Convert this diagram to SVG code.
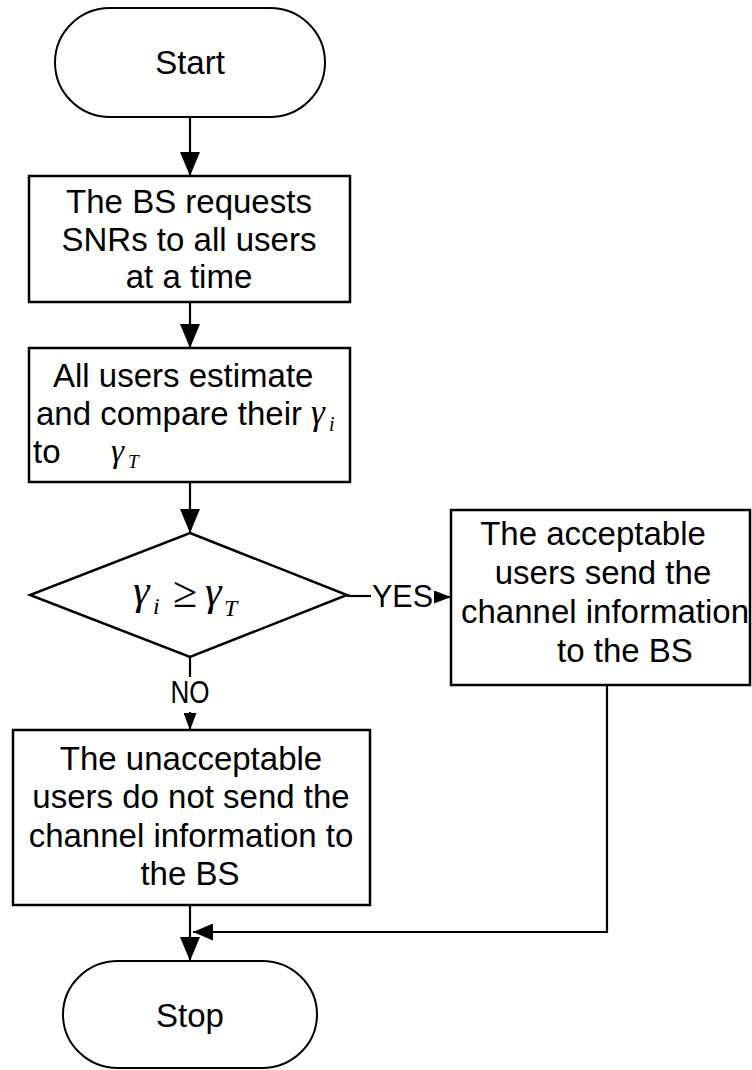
<svg xmlns="http://www.w3.org/2000/svg" width="752" height="1070" viewBox="0 0 752 1070">
  <defs>
    <marker id="arrowBig" markerUnits="userSpaceOnUse" markerWidth="24" markerHeight="20" refX="24" refY="10" orient="auto">
      <path d="M0,0 L24,10 L0,20 z" fill="#000"/>
    </marker>
    <marker id="arrowMid" markerUnits="userSpaceOnUse" markerWidth="20" markerHeight="17" refX="20" refY="8.5" orient="auto">
      <path d="M0,0 L20,8.5 L0,17 z" fill="#000"/>
    </marker>
    <marker id="arrowSmall" markerUnits="userSpaceOnUse" markerWidth="17" markerHeight="13" refX="17" refY="6.5" orient="auto">
      <path d="M0,0 L17,6.5 L0,13 z" fill="#000"/>
    </marker>
  </defs>
  <style>
    .term { fill: #fff; stroke: #000; stroke-width: 2; }
    .box { fill: #fff; stroke: #000; stroke-width: 2.5; }
    .dec { fill: #fff; stroke: #000; stroke-width: 2.5; }
    .lbl { font-family: "Liberation Sans", Arial, sans-serif; font-size: 33px; fill: #000; }
    .mid { text-anchor: middle; }
    .tag { font-family: "Liberation Sans", Arial, sans-serif; font-size: 31px; fill: #000; }
    .math { font-family: "Liberation Serif", "Times New Roman", serif; font-style: italic; fill: #000; }
    .conn { fill: none; stroke: #000; stroke-width: 2.2; }
  </style>
  <rect width="752" height="1070" fill="#fff"/>

  <!-- connectors -->
  <g id="connectors">
    <path class="conn" d="M190,117 V176" marker-end="url(#arrowBig)"/>
    <path class="conn" d="M190,302 V348" marker-end="url(#arrowBig)"/>
    <path class="conn" d="M190,482 V533" marker-end="url(#arrowBig)"/>
    <path class="conn" d="M190,657 V677"/>
    <text class="tag mid" x="190" y="703" font-size="28" textLength="39" lengthAdjust="spacingAndGlyphs">NO</text>
    <path class="conn" d="M190,712 V730" marker-end="url(#arrowSmall)"/>
    <path class="conn" d="M347,596 H371"/>
    <text class="tag" x="372" y="607" textLength="61" lengthAdjust="spacingAndGlyphs">YES</text>
    <path class="conn" d="M434,597 H451" marker-end="url(#arrowSmall)"/>
    <path class="conn" d="M607,685 V932 H193" marker-end="url(#arrowMid)"/>
    <path class="conn" d="M190,905 V961" marker-end="url(#arrowBig)"/>
  </g>

  <!-- start terminator -->
  <g id="start">
    <rect class="term" x="55" y="8" width="270" height="109" rx="55" ry="54.5"/>
    <text class="lbl mid" x="190" y="74">Start</text>
  </g>

  <!-- request step -->
  <g id="request">
    <rect class="box" x="29" y="176" width="321" height="126"/>
    <text class="lbl mid" x="189" y="213">The BS requests</text>
    <text class="lbl mid" x="189" y="251">SNRs to all users</text>
    <text class="lbl mid" x="189" y="288">at a time</text>
  </g>

  <!-- estimate and compare step -->
  <g id="estimate">
    <rect class="box" x="29" y="348" width="321" height="134"/>
    <text class="lbl" x="53" y="387">All users estimate</text>
    <text class="lbl" x="36" y="425">and compare their</text>
    <text class="math" font-size="35"><tspan x="311" y="424">γ</tspan><tspan x="329" y="431" font-size="20">i</tspan></text>
    <text class="lbl" x="33" y="463">to</text>
    <text class="math" font-size="33"><tspan x="111" y="462">γ</tspan><tspan x="128" y="468" font-size="19">T</tspan></text>
  </g>

  <!-- threshold decision -->
  <g id="decision">
    <polygon class="dec" points="190,533 347,595 190,657 30,595"/>
    <text class="math" font-size="42"><tspan x="133" y="604">γ</tspan><tspan x="153" y="614" font-size="24">i</tspan><tspan x="173" y="607" font-style="normal" font-size="44">≥</tspan><tspan x="205" y="605">γ</tspan><tspan x="224" y="616" font-size="24">T</tspan></text>
  </g>

  <!-- acceptable users step -->
  <g id="accept">
    <rect class="box" x="451" y="510" width="299" height="175"/>
    <text class="lbl mid" x="593" y="545">The acceptable</text>
    <text class="lbl mid" x="603" y="584">users send the</text>
    <text class="lbl mid" x="605" y="623">channel information</text>
    <text class="lbl mid" x="625" y="662">to the BS</text>
  </g>

  <!-- unacceptable users step -->
  <g id="reject">
    <rect class="box" x="13" y="730" width="357" height="175"/>
    <text class="lbl mid" x="191" y="770">The unacceptable</text>
    <text class="lbl mid" x="191" y="808">users do not send the</text>
    <text class="lbl mid" x="191" y="847">channel information to</text>
    <text class="lbl mid" x="190" y="885">the BS</text>
  </g>

  <!-- stop terminator -->
  <g id="stop">
    <rect class="term" x="63" y="961" width="254" height="107" rx="55" ry="53.5"/>
    <text class="lbl mid" x="190" y="1027">Stop</text>
  </g>
</svg>
